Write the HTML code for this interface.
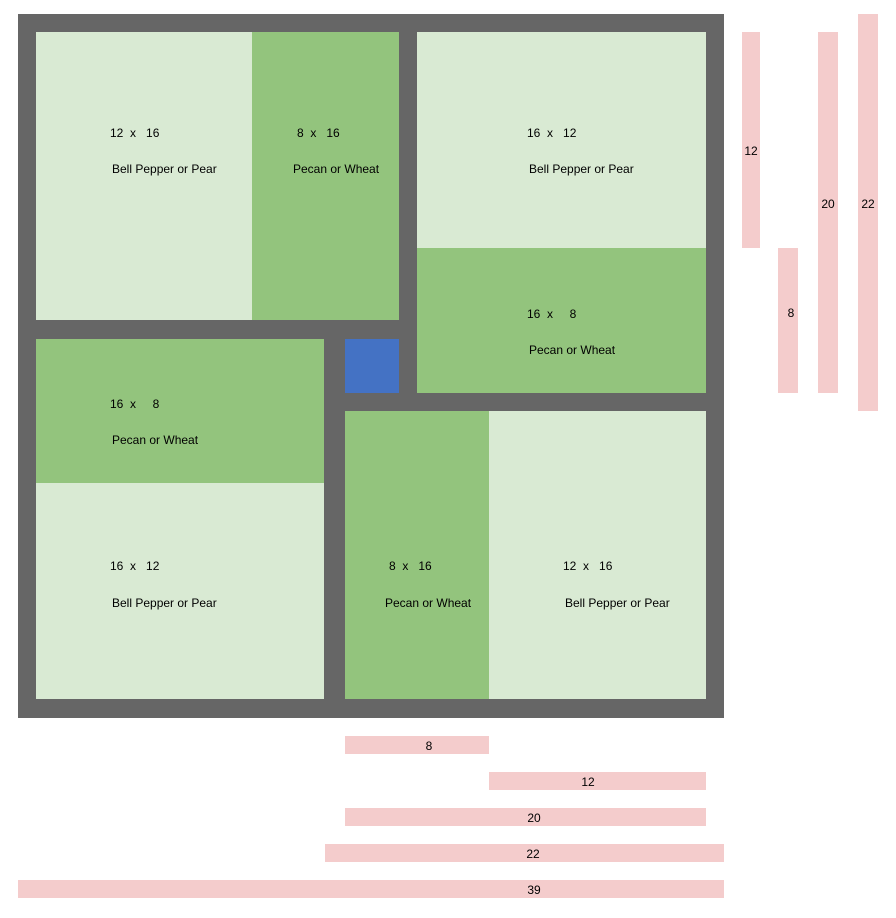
<!DOCTYPE html>
<html><head><meta charset="utf-8"><style>
body{margin:0;width:896px;height:918px;background:#fff;position:relative;font-family:"Liberation Sans",sans-serif;font-size:12px;color:#000;overflow:hidden}
div{position:absolute;box-sizing:border-box}
.g{background:#666}.l{background:#d9ead3}.d{background:#93c47d}.b{background:#4472c4}.p{background:#f4cccc}
.t{white-space:pre;line-height:14px}
.c{white-space:pre;line-height:14px;transform:translate(-50%,-50%)}
</style></head><body>
<div class="g" style="left:18px;top:14px;width:706px;height:704px"></div>
<div class="l" style="left:36px;top:32px;width:216px;height:288px"></div>
<div class="d" style="left:252px;top:32px;width:147px;height:288px"></div>
<div class="l" style="left:417px;top:32px;width:289px;height:216px"></div>
<div class="d" style="left:417px;top:248px;width:289px;height:145px"></div>
<div class="b" style="left:345px;top:339px;width:54px;height:54px"></div>
<div class="d" style="left:36px;top:339px;width:288px;height:144px"></div>
<div class="l" style="left:36px;top:483px;width:288px;height:216px"></div>
<div class="d" style="left:345px;top:411px;width:144px;height:288px"></div>
<div class="l" style="left:489px;top:411px;width:217px;height:288px"></div>

<div class="t" style="left:110px;top:126px">12  x   16</div>
<div class="t" style="left:112px;top:162px">Bell Pepper or Pear</div>
<div class="t" style="left:297px;top:126px">8  x   16</div>
<div class="t" style="left:293px;top:162px">Pecan or Wheat</div>
<div class="t" style="left:527px;top:126px">16  x   12</div>
<div class="t" style="left:529px;top:162px">Bell Pepper or Pear</div>
<div class="t" style="left:527px;top:307px">16  x     8</div>
<div class="t" style="left:529px;top:343px">Pecan or Wheat</div>
<div class="t" style="left:110px;top:397px">16  x     8</div>
<div class="t" style="left:112px;top:433px">Pecan or Wheat</div>
<div class="t" style="left:110px;top:559px">16  x   12</div>
<div class="t" style="left:112px;top:596px">Bell Pepper or Pear</div>
<div class="t" style="left:389px;top:559px">8  x   16</div>
<div class="t" style="left:385px;top:596px">Pecan or Wheat</div>
<div class="t" style="left:563px;top:559px">12  x   16</div>
<div class="t" style="left:565px;top:596px">Bell Pepper or Pear</div>

<div class="p" style="left:742px;top:32px;width:18px;height:216px"></div>
<div class="p" style="left:778px;top:248px;width:20px;height:145px"></div>
<div class="p" style="left:818px;top:32px;width:20px;height:361px"></div>
<div class="p" style="left:858px;top:14px;width:20px;height:397px"></div>
<div class="c" style="left:751px;top:151px">12</div>
<div class="c" style="left:791px;top:313px">8</div>
<div class="c" style="left:828px;top:204px">20</div>
<div class="c" style="left:868px;top:204px">22</div>

<div class="p" style="left:345px;top:736px;width:144px;height:18px"></div>
<div class="p" style="left:489px;top:772px;width:217px;height:18px"></div>
<div class="p" style="left:345px;top:808px;width:361px;height:18px"></div>
<div class="p" style="left:325px;top:844px;width:399px;height:18px"></div>
<div class="p" style="left:18px;top:880px;width:706px;height:18px"></div>
<div class="c" style="left:429px;top:746px">8</div>
<div class="c" style="left:588px;top:782px">12</div>
<div class="c" style="left:534px;top:818px">20</div>
<div class="c" style="left:533px;top:854px">22</div>
<div class="c" style="left:534px;top:890px">39</div>
</body></html>
